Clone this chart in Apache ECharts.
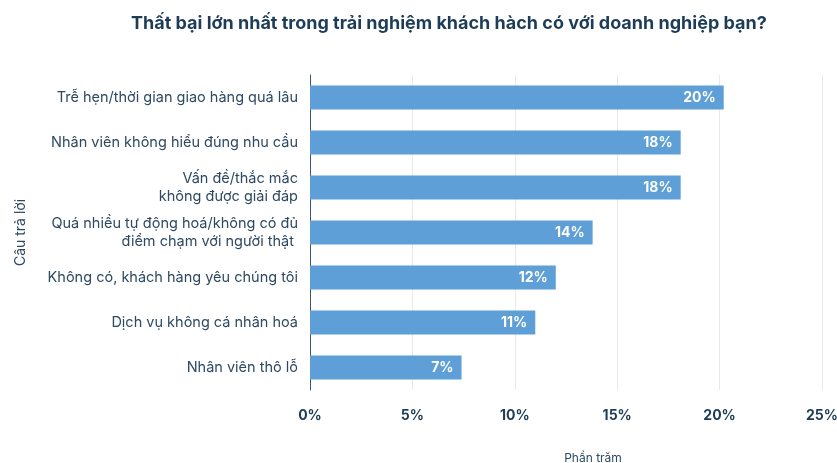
<!DOCTYPE html>
<html>
<head>
<meta charset="utf-8">
<style>
  html, body { margin: 0; padding: 0; background: #ffffff; }
  #chart { width: 837px; height: 463px; }
</style>
<script src="https://cdn.jsdelivr.net/npm/echarts@6/dist/echarts.min.js"></script>
</head>
<body>
<div id="chart"></div>
<script>
// Survey answers, top to bottom
const categories = [
  'Trễ hẹn/thời gian giao hàng quá lâu',
  'Nhân viên không hiểu đúng nhu cầu',
  'Vấn đề/thắc mắc\nkhông được giải đáp',
  'Quá nhiều tự động hoá/không có đủ\nđiểm chạm với người thật ',
  'Không có, khách hàng yêu chúng tôi',
  'Dịch vụ không cá nhân hoá',
  'Nhân viên thô lỗ'
];
// Share of respondents (%)
const shares = [20.2, 18.1, 18.1, 13.8, 12.0, 11.0, 7.4];
const tickValues = [0, 5, 10, 15, 20, 25];

const titleText = 'Thất bại lớn nhất trong trải nghiệm khách hàch có với doanh nghiệp bạn?';
const xName = 'Phần trăm';
const yName = 'Câu trả lời';

const navy = '#1d3c57';
const labelGray = '#2e4a63';
const barBlue = '#5d9fd6';

const chart = echarts.init(document.getElementById('chart'));
chart.setOption({
  animation: false,
  textStyle: { fontFamily: 'Inter, "Noto Sans", sans-serif' },
  title: {
    text: titleText,
    left: 126,
    top: 10,
    textStyle: { fontSize: 18, fontWeight: 'bold', color: navy, fontFamily: 'Inter, sans-serif' }
  },
  grid: { left: 310, top: 75, width: 512, height: 315, outerBoundsMode: 'none', containLabel: false },
  xAxis: {
    type: 'value',
    min: tickValues[0],
    max: tickValues[tickValues.length - 1],
    interval: 5,
    name: xName,
    nameLocation: 'middle',
    nameGap: 62,
    nameTextStyle: { fontSize: 12, color: labelGray, padding: [0, 0, 0, 54] },
    axisLine: { show: false },
    axisTick: { show: false },
    axisLabel: {
      margin: 19,
      fontSize: 14,
      fontWeight: 'bold',
      color: navy,
      formatter: v => v + '%'
    },
    splitLine: { lineStyle: { color: '#e9e9e9', width: 1 } }
  },
  yAxis: {
    type: 'category',
    data: categories,
    inverse: true,
    name: yName,
    nameLocation: 'middle',
    nameGap: 282,
    nameRotate: 90,
    nameTextStyle: { fontSize: 14, color: labelGray },
    axisLine: { show: true, lineStyle: { color: '#3a5670', width: 1 } },
    axisTick: { show: false },
    axisLabel: {
      margin: 12,
      fontSize: 14.5,
      color: labelGray,
      lineHeight: 18,
      align: 'right'
    }
  },
  series: [{
    type: 'bar',
    data: shares,
    barWidth: 24,
    itemStyle: { color: barBlue },
    label: {
      show: true,
      position: 'insideRight',
      distance: 8,
      color: '#ffffff',
      fontSize: 14,
      fontWeight: 'bold',
      formatter: p => Math.round(p.value) + '%'
    }
  }]
});
</script>
</body>
</html>
